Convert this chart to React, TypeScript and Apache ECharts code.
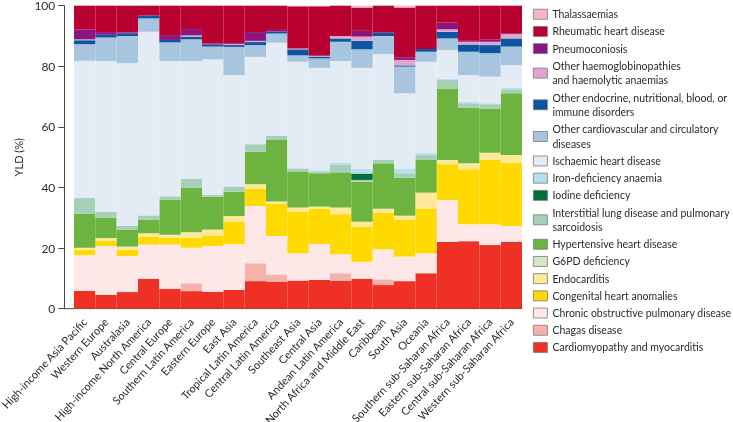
import React, { useEffect, useRef } from "react";
import * as echarts from "echarts";

const categories = [
  "High-income Asia Pacific", "Western Europe", "Australasia", "High-income North America",
  "Central Europe", "Southern Latin America", "Eastern Europe", "East Asia",
  "Tropical Latin America", "Central Latin America", "Southeast Asia", "Central Asia",
  "Andean Latin America", "North Africa and Middle East", "Caribbean", "South Asia",
  "Oceania", "Southern sub-Saharan Africa", "Eastern sub-Saharan Africa",
  "Central sub-Saharan Africa", "Western sub-Saharan Africa",
];

const cardiomyopathy = [5.9, 4.6, 5.5, 9.9, 6.6, 5.8, 5.6, 6.2, 9.1, 8.9, 9.3, 9.5, 9.2, 9.9, 7.8, 9.1, 11.7, 22.0, 22.3, 21.0, 22.1];
const chagas = [0, 0, 0, 0, 0, 2.6, 0, 0, 5.9, 2.4, 0, 0, 2.5, 0, 1.9, 0, 0, 0, 0, 0, 0];
const copd = [11.8, 16.1, 11.9, 11.3, 14.6, 11.7, 15.1, 15.1, 18.9, 12.7, 9.0, 11.8, 6.3, 5.6, 9.9, 8.1, 6.6, 13.8, 5.6, 6.9, 5.2];
const congenital = [1.7, 1.7, 2.0, 2.5, 2.2, 3.3, 3.5, 7.5, 5.6, 10.7, 13.8, 11.6, 13.2, 11.6, 12.1, 12.1, 14.8, 11.9, 18.1, 21.2, 20.9];
const endocarditis = [0.7, 0.9, 1.1, 1.2, 1.0, 1.8, 1.9, 1.8, 1.6, 0.7, 1.3, 0.8, 2.2, 1.6, 1.3, 1.4, 5.2, 1.4, 2.0, 2.4, 2.5];
const g6pd = [0, 0, 0, 0, 0, 0, 0, 0, 0, 0, 0, 0, 0, 0, 0, 0, 0, 0, 0, 0, 0];
const hypertensive = [11.3, 6.8, 5.5, 4.5, 11.5, 14.7, 10.9, 8.0, 10.7, 20.3, 11.9, 11.0, 11.6, 13.2, 15.0, 12.5, 10.8, 23.6, 18.3, 14.4, 20.4];
const interstitial = [5.1, 1.8, 1.4, 1.4, 1.2, 2.9, 0.5, 1.7, 2.5, 1.4, 1.0, 0.4, 2.5, 0.6, 1.1, 1.5, 1.6, 2.8, 1.5, 1.6, 1.3];
const iodine = [0, 0, 0, 0, 0, 0, 0, 0, 0, 0, 0, 0, 0, 2.1, 0, 0, 0, 0, 0, 0, 0];
const ironDeficiency = [0, 0, 0, 0, 0, 0, 0, 0, 0, 0, 0, 0.6, 0.6, 1.6, 0, 1.6, 0.8, 0.4, 0.5, 0.3, 0.5];
const ischaemic = [45.3, 49.8, 53.6, 60.6, 44.6, 38.9, 44.8, 36.8, 28.8, 30.7, 35.2, 33.8, 33.6, 33.3, 34.9, 24.8, 30.0, 9.5, 8.8, 8.8, 7.5];
const otherCardio = [5.5, 7.8, 9.0, 4.4, 6.2, 7.2, 4.2, 9.3, 3.9, 3.0, 2.1, 3.1, 6.4, 6.1, 6.0, 8.8, 3.3, 3.8, 7.7, 7.7, 6.1];
const otherEndocrine = [1.3, 0.9, 0.9, 0.8, 0.8, 0.9, 0.7, 0.6, 1.0, 0.7, 2.0, 0.6, 1.1, 2.8, 1.1, 0.4, 0.9, 2.2, 2.4, 2.7, 2.7];
const otherHaemo = [0.3, 0, 0, 0, 0, 0.4, 0, 0.3, 0.4, 0, 0.3, 0.3, 0.8, 1.4, 0, 1.8, 0, 0.8, 0.9, 1.1, 1.4];
const pneumoconiosis = [3.3, 0.9, 0.3, 0.2, 1.6, 2.1, 0.3, 0.3, 2.9, 0.5, 0, 0, 0, 1.9, 0, 0.9, 0, 2.2, 0.3, 0.8, 0.3];
const rheumatic = [7.8, 8.7, 8.8, 3.2, 9.7, 7.7, 12.5, 12.4, 8.7, 8.0, 13.9, 16.3, 10.0, 7.7, 8.9, 16.4, 14.3, 5.6, 11.6, 11.1, 9.1];
const thalassaemias = [0, 0, 0, 0, 0, 0, 0, 0, 0, 0, 0.2, 0.2, 0, 0.6, 0, 0.6, 0, 0, 0, 0, 0];

const yTicks = [0, 20, 40, 60, 80, 100];

// bottom of stack first
const seriesDefs = [
  { name: "Cardiomyopathy and myocarditis", data: cardiomyopathy, color: "#ee3124" },
  { name: "Chagas disease", data: chagas, color: "#f6b1ab" },
  { name: "Chronic obstructive pulmonary disease", data: copd, color: "#fde7e7" },
  { name: "Congenital heart anomalies", data: congenital, color: "#ffda00" },
  { name: "Endocarditis", data: endocarditis, color: "#fee89a" },
  { name: "G6PD deficiency", data: g6pd, color: "#d2e9c6" },
  { name: "Hypertensive heart disease", data: hypertensive, color: "#6db33f" },
  { name: "Interstitial lung disease and pulmonary sarcoidosis", data: interstitial, color: "#a5cfb6" },
  { name: "Iodine deficiency", data: iodine, color: "#006f3b" },
  { name: "Iron-deficiency anaemia", data: ironDeficiency, color: "#b3e1ee" },
  { name: "Ischaemic heart disease", data: ischaemic, color: "#e3ebf4" },
  { name: "Other cardiovascular and circulatory diseases", data: otherCardio, color: "#a8c5e0" },
  { name: "Other endocrine, nutritional, blood, or immune disorders", data: otherEndocrine, color: "#0b55a3" },
  { name: "Other haemoglobinopathies and haemolytic anaemias", data: otherHaemo, color: "#e2a5cf" },
  { name: "Pneumoconiosis", data: pneumoconiosis, color: "#8a167e" },
  { name: "Rheumatic heart disease", data: rheumatic, color: "#b80031" },
  { name: "Thalassaemias", data: thalassaemias, color: "#f4b9c9" },
];

const legendLabels: Record<string, string> = {
  "Other haemoglobinopathies and haemolytic anaemias": "Other haemoglobinopathies\nand haemolytic anaemias",
  "Other endocrine, nutritional, blood, or immune disorders": "Other endocrine, nutritional, blood, or\nimmune disorders",
  "Other cardiovascular and circulatory diseases": "Other cardiovascular and circulatory\ndiseases",
  "Interstitial lung disease and pulmonary sarcoidosis": "Interstitial lung disease and pulmonary\nsarcoidosis",
};

const FONT = "Lato, 'Open Sans', sans-serif";
const AXIS = "#4a4a4a";

export default function App() {
  const ref = useRef<HTMLDivElement>(null);
  useEffect(() => {
    if (!ref.current) return;
    const chart = echarts.init(ref.current, null, { renderer: "svg" });
    const gridLeft = 74;
    const gridBottom = 113.3;
    chart.setOption({
      animation: false,
      textStyle: { fontFamily: FONT },
      grid: {
        left: gridLeft,
        right: 211,
        top: 5.7,
        bottom: gridBottom,
        containLabel: false,
        outerBoundsMode: "none",
      },
      legend: {
        orient: "vertical",
        left: 533,
        top: 7,
        padding: 0,
        itemGap: 2.7,
        itemWidth: 14,
        itemHeight: 10,
        icon: "rect",
        itemStyle: { borderColor: "#7a7a7a", borderWidth: 0.8 },
        textStyle: { fontFamily: FONT, fontSize: 10.5, color: "#2b2b2b", lineHeight: 14.5 },
        data: seriesDefs.map((s) => s.name).reverse(),
        formatter: (n: string) => legendLabels[n] || n,
        selectedMode: false,
      },
      xAxis: {
        type: "category",
        data: categories,
        boundaryGap: true,
        axisLine: { lineStyle: { color: AXIS, width: 1 } },
        axisTick: { length: 5, lineStyle: { color: AXIS } },
        axisLabel: { rotate: 47, fontSize: 11, color: "#2b2b2b", margin: 11, interval: 0, fontFamily: FONT },
      },
      yAxis: {
        type: "value",
        min: yTicks[0],
        max: yTicks[yTicks.length - 1],
        interval: 20,
        offset: 9.7,
        name: "YLD (%)",
        nameLocation: "middle",
        nameRotate: 90,
        nameGap: 37,
        nameTextStyle: { fontSize: 11, color: "#2b2b2b", fontFamily: FONT },
        axisLine: { show: true, lineStyle: { color: AXIS, width: 1 } },
        axisTick: { show: true, length: 6, lineStyle: { color: AXIS } },
        axisLabel: { fontSize: 12, color: "#2b2b2b", margin: 9, fontFamily: FONT, padding: [3, 0, 0, 0] },
        splitLine: { show: false },
      },
      graphic: [
        {
          type: "line",
          shape: { x1: gridLeft - 9.7, y1: 422 - gridBottom, x2: gridLeft, y2: 422 - gridBottom },
          style: { stroke: AXIS, lineWidth: 1 },
          z: 10,
        },
      ],
      series: seriesDefs.map((s) => ({
        name: s.name,
        type: "bar",
        stack: "total",
        barCategoryGap: "0%",
        data: s.data,
        itemStyle: { color: s.color },
        emphasis: { disabled: true },
      })),
    });
    return () => chart.dispose();
  }, []);
  return <div ref={ref} style={{ position: "fixed", left: 0, top: 0, width: 733, height: 422 }} />;
}
